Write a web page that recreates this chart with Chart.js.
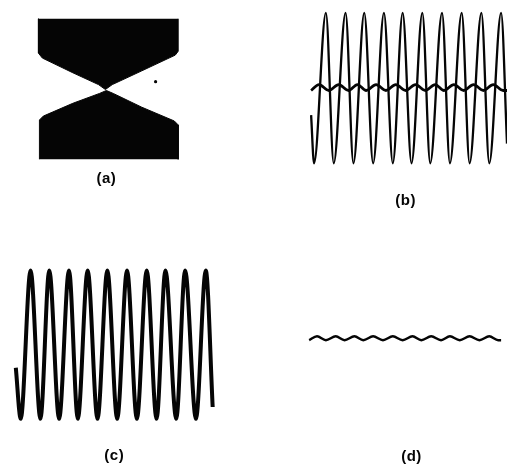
<!DOCTYPE html>
<html>
<head>
<meta charset="utf-8">
<script src="https://cdn.jsdelivr.net/npm/chart.js@4/dist/chart.umd.min.js"></script>
<style>
  body { margin: 0; background: #fff; }
  #wrap { position: relative; width: 511px; height: 470px; }
</style>
</head>
<body>
<div id="wrap"><canvas id="c"></canvas></div>
<script>
// panel (a): outline of the two black blocks (page coords)
const aTopX = [35, 35, 39, 70, 96, 103, 110, 140, 174, 177, 177];
const aTopY = [15, 50, 55, 70, 82, 87, 82, 68, 52, 48, 15];
const aBotX = [36, 36, 40, 70, 97, 104, 111, 140, 173, 177, 177];
const aBotY = [158, 118, 114, 101, 91, 88, 91, 105, 119, 123, 158];
const aDotX = [154];
const aDotY = [79];

// panel (b): big wave extrema + the rippled centre line
const bPeakX = [327, 347, 366, 386, 405, 425, 445, 465, 485, 505];
const bTroughX = [315, 335, 355, 375, 395, 414, 433, 453, 473, 493];
const bPeakY = 9;
const bTroughY = 162;
const bStart = { x: 312, y: 113 };
const bEnd = { x: 511, y: 142 };
const bRipUpX = [320, 340, 359, 378, 398, 418, 438, 457, 477, 497];
const bRipDownX = [312, 330, 350, 368, 388, 408, 428, 447, 467, 487, 507, 511];
const bRipUpY = 82;
const bRipDownY = 88;

// panel (c)
const cPeakX = [27, 46, 66, 85, 105, 125, 145, 164, 184, 205];
const cTroughX = [17, 37, 56, 75, 95, 115, 135, 155, 175, 195];
const cPeakY = 271;
const cTroughY = 422;
const cStart = { x: 12, y: 370 };
const cEnd = { x: 212, y: 410 };

// panel (d): small ripple
const dUpX = [318, 337, 356, 375, 395, 415, 434, 453, 473, 493];
const dDownX = [310, 327, 346, 365, 385, 405, 424, 444, 463, 483, 502, 505];
const dUpY = 338;
const dDownY = 342;

const labelTexts = ["(a)", "(b)", "(c)", "(d)"];
const labelX = [104, 408, 112, 414];
const labelY = [178, 200, 460, 461];

const pts = (xs, ys) => xs.map((x, i) => ({ x, y: ys[i] }));
// merge extrema of a wave into one x-sorted list
const wave = (upX, upY, downX, downY, extra = []) =>
  upX.map((x) => ({ x, y: upY }))
    .concat(downX.map((x) => ({ x, y: downY })))
    .concat(extra)
    .sort((p, q) => p.x - q.x);

const ink = "#050505";

const labelPlugin = {
  id: "panelLabels",
  afterDraw(chart) {
    const { ctx, scales } = chart;
    ctx.save();
    ctx.fillStyle = ink;
    ctx.font = "bold 15px 'Liberation Sans', Arial, sans-serif";
    ctx.letterSpacing = "0.5px";
    ctx.textAlign = "center";
    ctx.textBaseline = "middle";
    labelTexts.forEach((t, i) => {
      ctx.fillText(t, scales.x.getPixelForValue(labelX[i]), scales.y.getPixelForValue(labelY[i]));
    });
    ctx.restore();
  },
};

const curve = (data, width) => ({
  data,
  borderColor: ink,
  borderWidth: width,
  pointRadius: 0,
  fill: false,
  cubicInterpolationMode: "monotone",
});

new Chart(document.getElementById("c"), {
  type: "line",
  data: {
    datasets: [
      {
        data: pts(aTopX, aTopY),
        borderColor: ink,
        backgroundColor: ink,
        borderWidth: 1,
        pointRadius: 0,
        tension: 0,
        fill: { value: 15 },
      },
      {
        data: pts(aBotX, aBotY),
        borderColor: ink,
        backgroundColor: ink,
        borderWidth: 1,
        pointRadius: 0,
        tension: 0,
        fill: { value: 158 },
      },
      {
        data: pts(aDotX, aDotY),
        showLine: false,
        pointRadius: 1.6,
        pointBackgroundColor: ink,
        pointBorderWidth: 0,
      },
      curve(wave(bPeakX, bPeakY, bTroughX, bTroughY, [bStart, bEnd]), 2.3),
      curve(wave(bRipUpX, bRipUpY, bRipDownX, bRipDownY), 2.8),
      curve(wave(cPeakX, cPeakY, cTroughX, cTroughY, [cStart, cEnd]), 4),
      curve(wave(dUpX, dUpY, dDownX, dDownY), 2.4),
    ],
  },
  options: {
    responsive: true,
    maintainAspectRatio: false,
    animation: false,
    layout: { padding: 0 },
    plugins: { legend: { display: false }, tooltip: { enabled: false } },
    scales: {
      x: { type: "linear", min: 0, max: 511, display: false },
      y: { type: "linear", min: 0, max: 470, reverse: true, display: false },
    },
  },
  plugins: [labelPlugin],
});
</script>
</body>
</html>
